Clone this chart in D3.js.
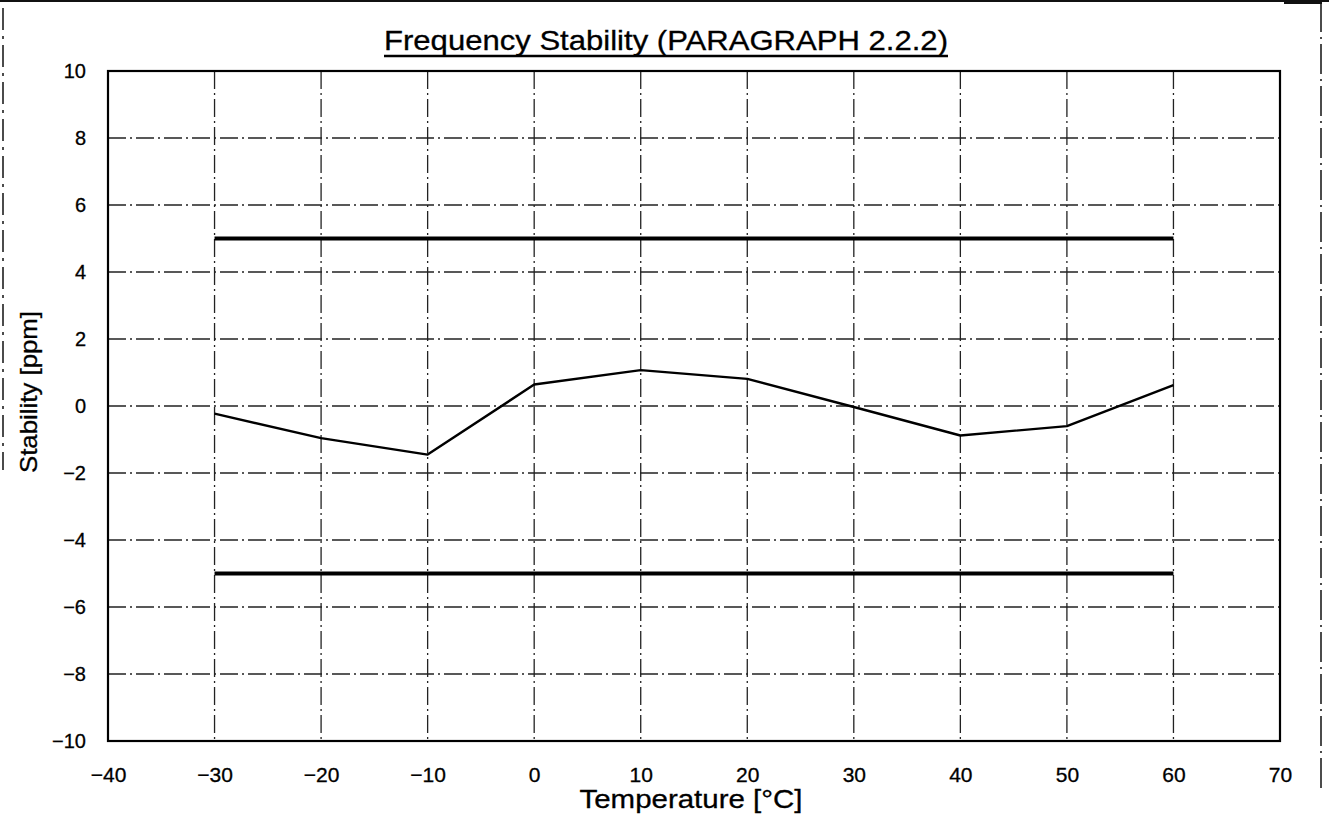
<!DOCTYPE html>
<html>
<head>
<meta charset="utf-8">
<script src="https://cdn.jsdelivr.net/npm/d3@7"></script>
<style>
  html, body { margin: 0; padding: 0; background: #fff; }
  svg { display: block; }
  text { font-family: "Liberation Sans", Arial, sans-serif; fill: #000; stroke: #000; stroke-width: 0.3px; }
</style>
</head>
<body>
<svg id="chart" width="1329" height="822"></svg>
<script>
// Measured frequency deviation over temperature
const temperatures = [-30, -20, -10, 0, 10, 20, 30, 40, 50, 60];
const stability    = [-0.23, -0.96, -1.45, 0.64, 1.07, 0.81, -0.03, -0.88, -0.60, 0.62];

// Specification limits (±5 ppm) over the test range
const limitRange  = [-30, 60];
const limitValues = [5, -5];

// Axis ticks
const xTicks = [-40, -30, -20, -10, 0, 10, 20, 30, 40, 50, 60, 70];
const yTicks = [-10, -8, -6, -4, -2, 0, 2, 4, 6, 8, 10];

const titleText  = "Frequency Stability (PARAGRAPH 2.2.2)";
const xLabelText = "Temperature [\u00B0C]";
const yLabelText = "Stability [ppm]";

const W = 1329, H = 822;
const plot = { left: 108, right: 1280, top: 71, bottom: 741 };

const svg = d3.select("#chart");

const x = d3.scaleLinear().domain([-40, 70]).range([plot.left, plot.right]);
const y = d3.scaleLinear().domain([-10, 10]).range([plot.bottom, plot.top]);

const fmt = d => d < 0 ? "\u2212" + Math.abs(d) : String(d);

// Page frame
const frame = svg.append("g").attr("stroke", "#111").attr("fill", "none");
frame.append("line").attr("x1", 0).attr("x2", W).attr("y1", 1).attr("y2", 1).attr("stroke-width", 2);
frame.append("line").attr("x1", 3).attr("x2", 3).attr("y1", 8).attr("y2", 470)
  .attr("stroke-width", 1.5).attr("stroke-dasharray", "22,6,3,6");
frame.append("line").attr("x1", 1321).attr("x2", 1321).attr("y1", 2).attr("y2", 790)
  .attr("stroke-width", 1.5).attr("stroke-dasharray", "30,5,2,5");
frame.append("line").attr("x1", 1284).attr("x2", 1322).attr("y1", 3).attr("y2", 3).attr("stroke-width", 2);

// Grid (dash-dot)
const grid = svg.append("g").attr("stroke", "#222").attr("stroke-width", 1.3)
  .attr("stroke-dasharray", "18,4,2,4").attr("fill", "none");
grid.selectAll("line.v")
  .data(xTicks.filter(t => t > -40 && t < 70))
  .join("line").attr("class", "v")
  .attr("x1", d => x(d)).attr("x2", d => x(d))
  .attr("y1", plot.top).attr("y2", plot.bottom);
grid.selectAll("line.h")
  .data(yTicks.filter(t => t > -10 && t < 10))
  .join("line").attr("class", "h")
  .attr("x1", plot.left).attr("x2", plot.right)
  .attr("y1", d => y(d)).attr("y2", d => y(d));

// Plot frame
svg.append("rect")
  .attr("x", plot.left).attr("y", plot.top)
  .attr("width", plot.right - plot.left).attr("height", plot.bottom - plot.top)
  .attr("fill", "none").attr("stroke", "#000").attr("stroke-width", 2.2);

// Axes (labels only; the frame carries the lines)
const xAxis = d3.axisBottom(x).tickValues(xTicks).tickSize(0).tickPadding(41).tickFormat(fmt);
const gx = svg.append("g").attr("transform", `translate(0,${plot.bottom})`).call(xAxis);
gx.select(".domain").remove();
gx.selectAll("text").attr("dy", 0)
  .style("font-size", "21px").style("font-family", "\"Liberation Sans\", Arial, sans-serif")
  .attr("fill", "#000");

const yAxis = d3.axisLeft(y).tickValues(yTicks).tickSize(0).tickPadding(22).tickFormat(fmt);
const gy = svg.append("g").attr("transform", `translate(${plot.left},0)`).call(yAxis);
gy.select(".domain").remove();
gy.selectAll("text")
  .style("font-size", "20px").style("font-family", "\"Liberation Sans\", Arial, sans-serif")
  .attr("fill", "#000");

// Limit lines
svg.append("g").selectAll("line")
  .data(limitValues)
  .join("line")
  .attr("x1", x(limitRange[0])).attr("x2", x(limitRange[1]))
  .attr("y1", d => y(d)).attr("y2", d => y(d))
  .attr("stroke", "#000").attr("stroke-width", 4.2);

// Measured curve
const series = temperatures.map((t, i) => ({ t, v: stability[i] }));
svg.append("path")
  .datum(series)
  .attr("fill", "none").attr("stroke", "#000").attr("stroke-width", 2.4)
  .attr("stroke-linejoin", "round")
  .attr("d", d3.line().x(d => x(d.t)).y(d => y(d.v)));

// Title with underline
const title = svg.append("text")
  .attr("x", 666).attr("y", 50).attr("text-anchor", "middle")
  .attr("textLength", 564).attr("lengthAdjust", "spacingAndGlyphs")
  .style("font-size", "28px").style("stroke-width", "0.3px").text(titleText);
const tb = title.node().getBBox();
svg.append("line")
  .attr("x1", tb.x).attr("x2", tb.x + tb.width)
  .attr("y1", 56).attr("y2", 56)
  .attr("stroke", "#000").attr("stroke-width", 2.4);

// Axis titles
svg.append("text")
  .attr("x", 691).attr("y", 808).attr("text-anchor", "middle")
  .attr("textLength", 223).attr("lengthAdjust", "spacingAndGlyphs")
  .style("font-size", "26px").text(xLabelText);
svg.append("text")
  .attr("transform", "translate(37,392) rotate(-90)")
  .attr("text-anchor", "middle")
  .attr("textLength", 162).attr("lengthAdjust", "spacingAndGlyphs")
  .style("font-size", "24px").text(yLabelText);
</script>
</body>
</html>
